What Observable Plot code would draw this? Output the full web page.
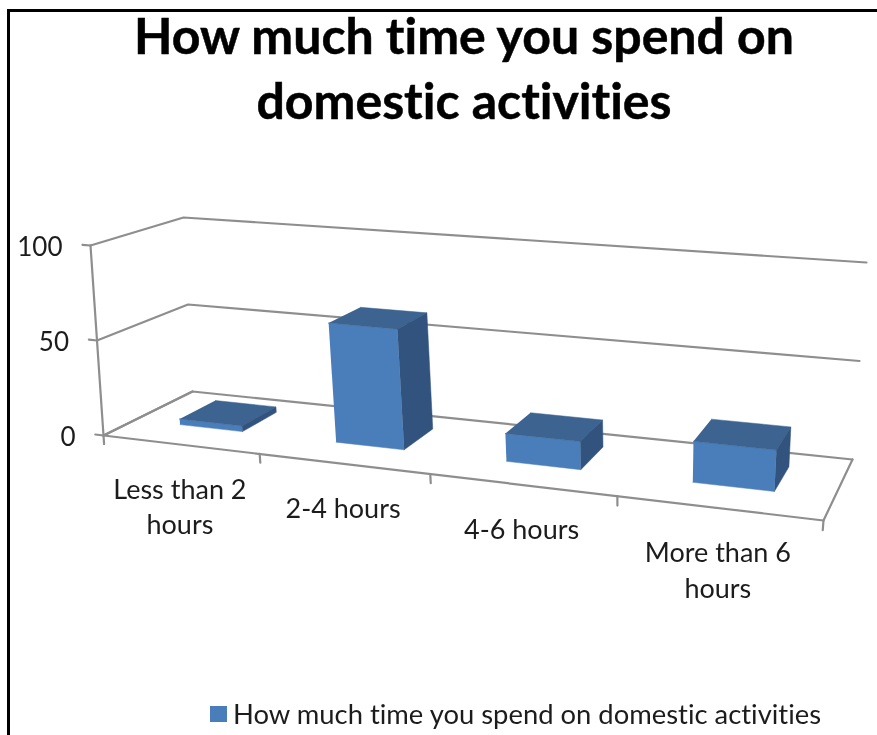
<!DOCTYPE html>
<html>
<head>
<meta charset="utf-8">
<script src="https://cdn.jsdelivr.net/npm/d3@7"></script>
<script src="https://cdn.jsdelivr.net/npm/@observablehq/plot@0.6"></script>
<style>
  html, body { margin: 0; padding: 0; background: #fff; overflow: hidden; }
  body { width: 877px; height: 735px; position: relative; font-family: Lato, sans-serif; font-variant-ligatures: none; }
  #frame { position: absolute; left: 7px; top: 9px; right: 0; bottom: 0; border-top: 3px solid #000; border-left: 3px solid #000; }
  #title { position: absolute; left: 0; top: 0; width: 928px; height: 130px; text-align: center; font-weight: 700; font-size: 50px; line-height: 65px; padding-top: 3px; color: #000; box-sizing: border-box; filter: blur(0.5px); -webkit-text-stroke: 0.5px #000; }
  #chart { position: absolute; left: 0; top: 130px; filter: blur(0.5px); }
  #chart text { font-variant-ligatures: none; }
  #legend { position: absolute; left: 210px; top: 691px; height: 45px; display: flex; align-items: center; font-size: 27.4px; color: #1c1c1c; filter: blur(0.5px); white-space: nowrap; }
  #legend i { display: inline-block; width: 17px; height: 16px; background: #4a7ebb; margin-right: 6px; }
</style>
</head>
<body>
<div id="frame"></div>
<div id="title">How much time you spend on<br>domestic activities</div>
<div id="chart"></div>
<div id="legend"><i></i><span>How much time you spend on domestic activities</span></div>
<script>
const categories = ["Less than 2\nhours", "2-4 hours", "4-6 hours", "More than 6\nhours"];
const values = [3, 62, 14, 20];
const yTicks = [0, 50, 100];
const yMax = 100;
const seriesName = "How much time you spend on domestic activities";

// Scene frame of the 3D chart: the four floor corners and the four corners at yMax
const floorQuad = [[103, 435], [823, 520], [852, 459], [192, 391]];
const topQuad = [[90, 245], [840, 304], [866, 262], [183, 217]];
const barWidth = 0.41, barShift = 0.005, depthFront = 0.34, depthBack = 0.76;
const plotTop = 130, plotHeight = 560;

function homography([p0, p1, p2, p3]) {
  const [x0, y0] = p0, [x1, y1] = p1, [x2, y2] = p2, [x3, y3] = p3;
  const dx1 = x1 - x2, dx2 = x3 - x2, sx = x0 - x1 + x2 - x3;
  const dy1 = y1 - y2, dy2 = y3 - y2, sy = y0 - y1 + y2 - y3;
  const det = dx1 * dy2 - dx2 * dy1;
  const g = (sx * dy2 - dx2 * sy) / det, h = (dx1 * sy - sx * dy1) / det;
  const a = x1 - x0 + g * x1, b = x3 - x0 + h * x3;
  const d = y1 - y0 + g * y1, e = y3 - y0 + h * y3;
  return (s, t) => {
    const w = g * s + h * t + 1;
    return [(a * s + b * t + x0) / w, (d * s + e * t + y0) / w];
  };
}
const floorH = homography(floorQuad), topH = homography(topQuad);
const n = categories.length;
// (category position, value, depth) -> scene position
function P(u, v, d) {
  const a = floorH(u / n, d), b = topH(u / n, d), k = v / yMax;
  return [a[0] + (b[0] - a[0]) * k, a[1] + (b[1] - a[1]) * k];
}
const pt = (u, v, d) => { const [x, y] = P(u, v, d); return {x, y}; };
const path = (key, pts) => pts.map(([u, v, d]) => ({...pt(u, v, d), key}));

// Frame lines
const frameLines = [
  ...yTicks.flatMap(t => path("grid" + t, [[0, t, 0], [0, t, 1], [n, t, 1]])),
  ...yTicks.flatMap(t => path("ytick" + t, [[-0.055, t, 0], [0, t, 0]])),
  ...path("yaxis", [[0, 0, 0], [0, yMax, 0]]),
  ...path("floor", [[0, 0, 1], [0, 0, 0], [n, 0, 0], [n, 0, 1]]),
  ...d3.range(n + 1).flatMap(i => path("xtick" + i, [[i, 0, 0], [i, -4.5, 0]]))
];

// Bar faces
const faces = {front: [], top: [], side: []};
values.forEach((v, i) => {
  const l = i + 0.5 + barShift - barWidth / 2, r = i + 0.5 + barShift + barWidth / 2;
  faces.front.push(...path("f" + i, [[l, 0, depthFront], [r, 0, depthFront], [r, v, depthFront], [l, v, depthFront]]));
  faces.top.push(...path("t" + i, [[l, v, depthFront], [r, v, depthFront], [r, v, depthBack], [l, v, depthBack]]));
  faces.side.push(...path("s" + i, [[r, 0, depthFront], [r, 0, depthBack], [r, v, depthBack], [r, v, depthFront]]));
});
const face = (rows, color) => Plot.line(rows, {x: "x", y: "y", z: "key", fill: color, stroke: color, strokeWidth: 0.5, curve: "linear"});

const yLabels = yTicks.map(t => ({...pt(0, t, 0), t: String(t)}));
const xLabels = categories.map((c, i) => ({...pt(i + 0.5, 0, 0), c}));

const chart = Plot.plot({
  width: 877, height: plotHeight,
  margin: 0,
  style: {background: "transparent", overflow: "visible"},
  x: {type: "linear", domain: [0, 877], range: [0, 877], axis: null},
  y: {type: "linear", domain: [plotTop, plotTop + plotHeight], range: [0, plotHeight], axis: null},
  marks: [
    Plot.line(frameLines, {x: "x", y: "y", z: "key", stroke: "#8e8e8e", strokeWidth: 2.2, curve: "linear"}),
    face(faces.front, "#4a7ebb"),
    face(faces.top, "#3d6491"),
    face(faces.side, "#32537e"),
    Plot.text(yLabels, {x: "x", y: "y", text: "t", dx: -28, dy: 2, textAnchor: "end", fontSize: 26, fontFamily: "Lato, sans-serif", fill: "#1c1c1c"}),
    Plot.text(xLabels, {x: "x", y: "y", text: "c", dy: 29, lineAnchor: "top", lineHeight: 1.32, textAnchor: "middle", fontSize: 27, fontFamily: "Lato, sans-serif", fill: "#1c1c1c"})
  ]
});
document.getElementById("chart").append(chart);
</script>
</body>
</html>
